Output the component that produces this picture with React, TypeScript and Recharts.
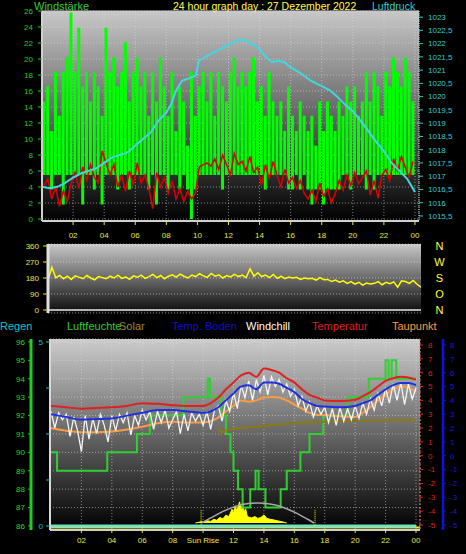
import React from "react";
import {
  ComposedChart,
  Bar,
  Line,
  Area,
  XAxis,
  YAxis,
  CartesianGrid,
  ReferenceLine,
} from "recharts";

const FONT = "'Liberation Sans', Arial, sans-serif";

// x axis (hours of the day)
const hourTicks = [2, 4, 6, 8, 10, 12, 14, 16, 18, 20, 22, 24];
const hourLabels = ["02", "04", "06", "08", "10", "12", "14", "16", "18", "20", "22", "00"];
const bottomLabels = ["02", "04", "06", "08", "Sun Rise", "12", "14", "16", "18", "20", "22", "00"];

// top chart: wind (km/h), 15 minute bins
const windTicks = [0, 2, 4, 6, 8, 10, 12, 14, 16, 18, 20, 22, 24, 26];
const windGust = [
  14.7, 16.6, 11.0, 18.4, 12.9, 18.4, 20.2, 25.8, 18.4, 23.9, 16.6, 18.4,
  14.7, 18.4, 16.6, 12.9, 23.9, 18.4, 20.2, 16.6, 18.4, 22.1, 14.7, 18.4,
  20.2, 16.6, 18.4, 12.9, 18.4, 14.7, 20.2, 16.6, 12.9, 18.4, 11.0, 16.6,
  14.7, 9.2, 18.4, 12.9, 16.6, 18.4, 14.7, 18.4, 12.9, 18.4, 16.6, 14.7,
  18.4, 20.2, 16.6, 18.4, 16.6, 18.4, 20.2, 14.7, 16.6, 12.9, 18.4, 14.7,
  12.9, 14.7, 11.0, 16.6, 12.9, 11.0, 14.7, 12.9, 11.0, 12.9, 9.2, 14.7,
  11.0, 14.7, 12.9, 11.0, 14.7, 12.9, 16.6, 14.7, 16.6, 12.9, 14.7, 18.4,
  14.7, 18.4, 16.6, 12.9, 18.4, 16.6, 20.2, 18.4, 16.6, 20.2, 18.4, 14.7,
];
const windLow = [
  5.5, 5.5, 3.7, 5.5, 5.5, 1.8, 5.5, 5.5, 5.5, 5.5, 1.8, 5.5,
  5.5, 3.7, 5.5, 1.8, 5.5, 5.5, 5.5, 3.7, 5.5, 5.5, 3.7, 5.5,
  5.5, 5.5, 5.5, 3.7, 5.5, 1.8, 5.5, 5.5, 3.7, 5.5, 5.5, 3.7,
  5.5, 3.7, 0, 3.7, 5.5, 5.5, 5.5, 5.5, 5.5, 5.5, 3.7, 5.5,
  5.5, 5.5, 5.5, 5.5, 5.5, 5.5, 5.5, 5.5, 5.5, 3.7, 5.5, 5.5,
  5.5, 5.5, 5.5, 3.7, 3.7, 5.5, 3.7, 5.5, 3.7, 1.8, 3.7, 3.7,
  1.8, 3.7, 3.7, 3.7, 3.7, 5.5, 5.5, 3.7, 5.5, 5.5, 5.5, 3.7,
  5.5, 3.7, 5.5, 5.5, 5.5, 5.5, 5.5, 5.5, 5.5, 5.5, 5.5, 5.5,
];
const windAvg = [
  4.2, 5.0, 2.5, 4.0, 1.6, 3.5, 2.2, 4.5, 5.8, 3.8, 6.5, 4.8,
  6.8, 5.2, 4.5, 8.5, 7.0, 5.5, 6.8, 4.0, 5.5, 3.5, 6.0, 4.2,
  7.0, 4.5, 5.5, 3.8, 1.3, 5.8, 4.0, 5.2, 3.2, 4.8, 2.5, 3.8,
  2.2, 3.5, 2.5, 3.2, 6.5, 6.8, 7.0, 6.6, 7.5, 6.2, 8.0, 6.8,
  5.5, 8.2, 6.8, 7.2, 6.0, 7.8, 5.8, 6.5, 4.2, 6.8, 5.0, 7.2,
  5.5, 4.0, 6.2, 4.5, 5.2, 3.8, 4.8, 3.2, 2.5, 3.6, 2.2, 4.5,
  2.8, 3.8, 2.0, 3.2, 4.8, 3.6, 5.5, 4.2, 5.8, 4.4, 5.2, 6.0,
  3.0, 4.8, 2.6, 5.5, 6.2, 4.8, 7.5, 6.0, 7.8, 6.5, 5.2, 7.2,
];

// top chart: air pressure (hPa)
const pressureTicks = [
  1015.5, 1016, 1016.5, 1017, 1017.5, 1018, 1018.5, 1019, 1019.5,
  1020, 1020.5, 1021, 1021.5, 1022, 1022.5, 1023,
];
const pressureHours = [
  0, 0.5, 1, 1.5, 2, 2.5, 3, 3.5, 4, 4.5, 5, 5.5, 6, 6.5, 7, 7.5, 8, 8.3, 8.6, 9,
  9.5, 9.9, 10.1, 10.5, 11, 11.5, 12, 12.5, 12.8, 13.2, 13.6, 14, 14.4, 14.8, 15.2,
  15.6, 16, 16.6, 17.3, 18, 18.5, 19, 19.5, 20, 20.5, 21, 21.5, 22, 22.5, 23, 23.5, 24,
];
const pressureValues = [
  1016.6, 1016.55, 1016.6, 1016.75, 1016.95, 1017.1, 1017.2, 1017.3, 1017.5, 1017.7,
  1017.8, 1017.9, 1018.15, 1018.4, 1018.65, 1019.1, 1019.4, 1019.7, 1020.2, 1020.6,
  1020.7, 1020.8, 1021.35, 1021.5, 1021.65, 1021.8, 1021.95, 1022.1, 1022.15, 1022.1,
  1021.95, 1021.8, 1021.5, 1021.3, 1021.35, 1021.3, 1021.1, 1020.9, 1020.6, 1020.4,
  1020.25, 1020.0, 1019.7, 1019.45, 1019.1, 1018.7, 1018.3, 1017.95, 1017.5, 1017.2,
  1016.9, 1016.4,
];

// middle chart: wind direction (deg), every 15 minutes
const dirTicks = [0, 90, 180, 270, 360];
const dirLetters = ["N", "O", "S", "W", "N"];
const windDir = [
  168, 240, 182, 195, 176, 190, 172, 192, 185, 176, 194, 180,
  170, 188, 182, 176, 190, 180, 196, 178, 186, 172, 192, 184,
  196, 178, 188, 200, 182, 194, 176, 190, 198, 185, 202, 190,
  180, 196, 188, 204, 192, 184, 206, 190, 198, 180, 194, 186,
  200, 188, 196, 182, 232, 190, 210, 188, 196, 182, 200, 178,
  190, 176, 186, 180, 184, 172, 180, 176, 178, 168, 182, 170,
  172, 160, 168, 156, 164, 150, 160, 146, 156, 140, 152, 146,
  150, 160, 142, 156, 148, 158, 128, 164, 160, 150, 166, 145, 128,
];

// bottom chart: humidity (%), stepped
const humTicks = [86, 87, 88, 89, 90, 91, 92, 93, 94, 95, 96];
const humHours = [
  0, 0.4, 3.7, 5.65, 6.5, 8.7, 10.3, 10.45, 11.2, 11.5, 11.8, 12.0, 12.3, 12.6, 13.1,
  13.45, 13.65, 14.1, 15.1, 15.5, 16.4, 17.0, 17.9, 19.5, 20.9, 22.0, 22.2, 22.4, 22.7, 24,
];
const humValues = [
  90, 89, 90, 91, 92, 93, 94, 93, 92, 91, 90, 89, 88, 87, 88,
  89, 88, 87, 88, 89, 90, 91, 92, 93, 94, 95, 94, 95, 94, 94,
];

// bottom chart: temperatures (°C)
const tempTicks = [-5, -4, -3, -2, -1, 0, 1, 2, 3, 4, 5, 6, 7, 8];
const tempHours = [
  0, 1, 2, 3, 4, 5, 6, 7, 8, 9, 10, 10.5, 11, 11.5, 12, 12.5, 13, 13.5, 14, 14.5,
  15, 15.5, 16, 16.5, 17, 17.5, 18, 19, 20, 20.5, 21, 21.5, 22, 22.5, 23, 23.5, 24,
];
const tempValues = [
  3.6, 3.5, 3.4, 3.45, 3.5, 3.6, 3.8, 3.75, 3.65, 3.6, 3.6, 3.8, 4.2, 4.8, 5.3, 5.8,
  6.0, 5.7, 6.3, 6.2, 6.0, 5.6, 5.3, 4.8, 4.4, 4.2, 4.0, 3.95, 4.05, 4.3, 4.6, 5.0,
  5.4, 5.6, 5.7, 5.65, 5.5,
];
const groundValues = [
  3.0, 2.8, 2.6, 2.65, 2.7, 2.9, 3.1, 3.3, 3.3, 3.2, 3.1, 3.2, 3.5, 4.0, 4.5, 5.0,
  5.1, 4.8, 5.3, 5.3, 5.2, 4.9, 4.6, 4.1, 3.8, 3.6, 3.55, 3.5, 3.6, 3.8, 4.0, 4.4,
  4.8, 5.1, 5.25, 5.25, 5.1,
];
const dewValues = [
  2.0, 1.8, 1.7, 1.7, 1.75, 1.9, 2.1, 2.35, 2.45, 2.4, 2.4, 2.5, 2.75, 3.2, 3.6, 4.0,
  3.9, 4.0, 4.2, 4.25, 4.2, 4.0, 3.7, 3.4, 3.1, 2.95, 2.95, 2.85, 2.8, 3.1, 3.5, 4.0,
  4.4, 4.8, 5.0, 4.9, 4.6,
];
// windchill every 15 minutes
const chillValues = [
  3.2, 2.0, 3.1, 2.6, 3.0, 1.4, 2.8, 1.8, 0.3, 2.9, 1.2, 2.7,
  1.6, 3.0, 2.2, 1.0, 2.9, 1.8, 3.0, 2.4, 3.1, 1.5, 2.9, 2.2,
  3.3, 2.6, 3.2, 1.9, 3.2, 2.4, 3.3, 2.0, 2.6, 3.2, 1.6, 3.0,
  1.8, 3.1, 2.5, 3.0, 2.2, 3.2, 1.9, 3.3, 3.6, 2.5, 4.0, 3.2,
  4.6, 3.4, 5.1, 4.2, 5.4, 4.0, 5.5, 4.6, 5.8, 4.4, 5.7, 5.0,
  5.5, 4.6, 5.2, 4.3, 4.8, 3.6, 4.3, 3.2, 3.9, 2.8, 3.6, 3.0,
  3.5, 2.4, 3.4, 2.2, 3.5, 2.5, 3.4, 2.6, 3.6, 2.7, 3.8, 3.0,
  4.1, 3.3, 4.5, 3.6, 4.9, 3.8, 5.2, 4.0, 5.3, 3.7, 5.2, 4.1, 4.9,
];
// olive "Solar" line (on the temperature scale)
const oliveHours = [11.0, 11.2, 11.4, 12, 13, 14, 15, 16, 17, 18, 20, 22, 24];
const oliveValues = [2.1, 1.65, 1.8, 1.95, 2.05, 2.15, 2.25, 2.35, 2.42, 2.47, 2.52, 2.56, 2.58];

// solar radiation (W/m²) and theoretical maximum
const sunHours = [
  9.5, 9.7, 9.9, 10.1, 10.3, 10.5, 10.7, 10.9, 11.1, 11.3, 11.5, 11.7, 11.9, 12.0,
  12.1, 12.2, 12.3, 12.4, 12.5, 12.6, 12.7, 12.8, 12.9, 13.0, 13.2, 13.4, 13.6, 13.8,
  14.0, 14.2, 14.4, 14.6, 14.8, 15.0, 15.2, 15.5,
];
const sunValues = [
  0, 3, 6, 4, 10, 7, 16, 12, 24, 18, 34, 28, 60, 42, 75, 55, 70, 92, 58, 85, 48, 62,
  30, 26, 22, 28, 20, 24, 35, 20, 16, 14, 11, 8, 5, 0,
];
const sunMaxHours = [9.9, 10.5, 11, 11.5, 12, 12.5, 13, 13.6, 14, 14.5, 15, 15.5, 16, 16.5, 17, 17.3];
const sunMaxValues = [0, 22, 40, 56, 69, 79, 85, 87, 86, 82, 74, 62, 47, 30, 12, 0];
const sunRise = 9.87;
const sunSet = 17.36;

// rain (mm)
const rainTicks = [0, 1.25, 2.5, 3.75, 5];
const rainHours = [0, 24];
const rainValues = [0, 0];

const legend = [
  { name: "Regen", x: 0, color: "#00c8c8" },
  { name: "Luftfeuchte", x: 67, color: "#33cc33" },
  { name: "Solar", x: 119, color: "#9a8a20" },
  { name: "Temp. Boden", x: 172, color: "#1010c8" },
  { name: "Windchill", x: 246, color: "#ffffff" },
  { name: "Temperatur", x: 312, color: "#dd2020" },
  { name: "Taupunkt", x: 392, color: "#ff9944" },
];

const series = (hours: number[], values: number[], key: string) =>
  hours.map((t, i) => ({ t, [key]: values[i] }));

const windData = windGust.map((g, i) => ({
  t: i * 0.25 + 0.125,
  bin: i,
  range: [windLow[i], g],
  avg: windAvg[i],
}));
const pressureData = series(pressureHours, pressureValues, "p");
const dirData = windDir.map((d, i) => ({ t: i * 0.25, d }));
const humData = series(humHours, humValues, "h");
const tempData = series(tempHours, tempValues, "v");
const groundData = series(tempHours, groundValues, "v");
const dewData = series(tempHours, dewValues, "v");
const chillData = chillValues.map((v, i) => ({ t: i * 0.25, v }));
const oliveData = series(oliveHours, oliveValues, "v");
const sunData = series(sunHours, sunValues, "s");
const sunMaxData = series(sunMaxHours, sunMaxValues, "s");
const rainData = series(rainHours, rainValues, "r");

const label = (labels: string[]) => (v: number) => labels[hourTicks.indexOf(v)] ?? "";
const comma = (v: number) => String(v).replace(".", ",");

const DirTick = (props: any) => {
  const { y, payload } = props;
  return (
    <text x={439.5} y={y} dy="0.36em" textAnchor="middle" fill="#ffff40" fontSize={11} fontFamily={FONT}>
      {dirLetters[dirTicks.indexOf(payload.value)]}
    </text>
  );
};

export default function App() {
  const yellow = "#e8e840";
  return (
    <div
      style={{
        position: "absolute",
        left: 0,
        top: 0,
        width: 466,
        height: 554,
        background: "#000",
        overflow: "hidden",
        fontFamily: FONT,
      }}
    >
      {/* wind speed + pressure */}
      <div style={{ position: "absolute", left: 0, top: 0 }}>
        <ComposedChart
          width={466}
          height={241}
          data={windData}
          barCategoryGap={0.3}
          margin={{ top: 11, right: 0, bottom: 0, left: 0 }}
        >
          <defs>
            <linearGradient id="bgTop" x1="0" y1="0" x2="0" y2="1">
              <stop offset="0" stopColor="#c8c8c8" />
              <stop offset="1" stopColor="#000000" />
            </linearGradient>
          </defs>
          <CartesianGrid yAxisId="w" fill="url(#bgTop)" fillOpacity={1} stroke="#e0e0e0" strokeOpacity={0.55} strokeDasharray="1 2" />
          <XAxis
            dataKey="t"
            type="number"
            domain={[0, 24.26]}
            allowDataOverflow
            ticks={hourTicks}
            interval={0}
            tickFormatter={label(hourLabels)}
            height={20}
            tickSize={4}
            tickMargin={7}
            axisLine={{ stroke: "#d0d0d0", strokeWidth: 2 }}
            tickLine={{ stroke: yellow }}
            tick={{ fill: yellow, fontSize: 8, fontFamily: FONT }}
          />
          <XAxis xAxisId="bins" dataKey="bin" type="category" hide padding={{ left: 0, right: 4 }} />
          <YAxis
            yAxisId="w"
            domain={[-0.25, 26]}
            allowDataOverflow
            ticks={windTicks}
            interval={0}
            width={42}
            tickSize={4}
            tickMargin={5}
            axisLine={{ stroke: "#d0d0d0", strokeWidth: 2 }}
            tickLine={{ stroke: "#22cc22" }}
            tick={{ fill: "#22cc22", fontSize: 8, fontFamily: FONT }}
          />
          <YAxis
            yAxisId="p"
            orientation="right"
            domain={[1015.31, 1023.23]}
            allowDataOverflow
            ticks={pressureTicks}
            interval={0}
            tickFormatter={comma}
            width={47}
            tickSize={4}
            tickMargin={5}
            axisLine={{ stroke: "#a0e0e0", strokeDasharray: "1 1" }}
            tickLine={{ stroke: "#33cccc" }}
            tick={{ fill: "#33cccc", fontSize: 8, fontFamily: FONT }}
          />
          <ReferenceLine yAxisId="w" y={26} stroke="#c8c8c8" />
          <Bar xAxisId="bins" yAxisId="w" dataKey="range" fill="#00ff00" isAnimationActive={false} />
          <Line yAxisId="w" dataKey="avg" stroke="#dd0000" strokeWidth={1.5} dot={false} isAnimationActive={false} />
          <Line yAxisId="p" data={pressureData} dataKey="p" stroke="#40d8e0" strokeWidth={2} dot={false} isAnimationActive={false} />
        </ComposedChart>
      </div>

      {/* wind direction */}
      <div style={{ position: "absolute", left: 0, top: 236 }}>
        <ComposedChart width={466} height={86} data={dirData} margin={{ top: 8, right: 0, bottom: 9, left: 0 }}>
          <defs>
            <linearGradient id="bgMid" x1="0" y1="0" x2="0" y2="1">
              <stop offset="0" stopColor="#c8c8c8" />
              <stop offset="1" stopColor="#0a0a0a" />
            </linearGradient>
          </defs>
          <CartesianGrid yAxisId="d" vertical={false} fill="url(#bgMid)" fillOpacity={1} stroke="#e8e8e8" strokeOpacity={0.6} strokeDasharray="1 2" />
          <XAxis dataKey="t" type="number" domain={[0, 24]} allowDataOverflow hide />
          <YAxis
            yAxisId="d"
            domain={[-16.9, 371.25]}
            allowDataOverflow
            ticks={dirTicks}
            interval={0}
            width={48}
            tickSize={5}
            tickMargin={4}
            axisLine={{ stroke: "#e0e0e0", strokeWidth: 3 }}
            tickLine={{ stroke: yellow }}
            tick={{ fill: yellow, fontSize: 8, fontFamily: FONT }}
          />
          <YAxis
            yAxisId="dr"
            orientation="right"
            domain={[-16.9, 371.25]}
            allowDataOverflow
            ticks={dirTicks}
            interval={0}
            width={45}
            axisLine={false}
            tickLine={false}
            tick={<DirTick />}
          />
          <ReferenceLine yAxisId="d" y={0} stroke="#e0e0e0" strokeWidth={1.5} />
          <Line yAxisId="d" dataKey="d" stroke="#ffff00" strokeWidth={1.5} dot={false} isAnimationActive={false} />
        </ComposedChart>
      </div>

      {/* humidity, temperatures, solar, rain */}
      <div style={{ position: "absolute", left: 0, top: 330 }}>
        <ComposedChart width={466} height={220} margin={{ top: 9, right: 0, bottom: 0, left: 0 }}>
          <defs>
            <linearGradient id="bgBot" x1="0" y1="0" x2="0" y2="1">
              <stop offset="0" stopColor="#cccccc" />
              <stop offset="0.5" stopColor="#666666" />
              <stop offset="1" stopColor="#000000" />
            </linearGradient>
          </defs>
          <CartesianGrid yAxisId="rh" fill="url(#bgBot)" fillOpacity={1} stroke="#e0e0e0" strokeOpacity={0.55} strokeDasharray="1 2" />
          <XAxis
            dataKey="t"
            type="number"
            domain={[-0.066, 24.263]}
            allowDataOverflow
            ticks={hourTicks}
            interval={0}
            tickFormatter={label(bottomLabels)}
            height={20}
            tickSize={3}
            tickMargin={4}
            axisLine={{ stroke: "#d0d0d0", strokeWidth: 2 }}
            tickLine={{ stroke: yellow }}
            tick={{ fill: yellow, fontSize: 8, fontFamily: FONT }}
          />
          {/* axes stack outward in id order: rain inside, humidity outside */}
          <YAxis
            yAxisId="ra"
            domain={[-0.109, 5.082]}
            allowDataOverflow
            ticks={rainTicks}
            interval={0}
            tickFormatter={(v: number) => (v === 0 || v === 5 ? String(v) : "")}
            width={19}
            tickSize={4}
            tickMargin={3}
            axisLine={{ stroke: "#d8d8d8", strokeWidth: 2 }}
            tickLine={{ stroke: "#00cccc" }}
            tick={{ fill: "#00cccc", fontSize: 8, fontFamily: FONT }}
          />
          <YAxis
            yAxisId="rh"
            domain={[85.78, 96.16]}
            allowDataOverflow
            ticks={humTicks}
            interval={0}
            width={31}
            tickSize={3}
            tickMargin={3}
            axisLine={{ stroke: "#22cc22", strokeWidth: 3 }}
            tickLine={{ stroke: "#22cc22" }}
            tick={{ fill: "#22dd22", fontSize: 8, fontFamily: FONT }}
          />
          <YAxis yAxisId="s" hide domain={[-30.4, 800]} allowDataOverflow />
          {/* temperature inside, ground temperature outside */}
          <YAxis
            yAxisId="ta"
            orientation="right"
            domain={[-5.361, 8.433]}
            allowDataOverflow
            ticks={tempTicks}
            interval={0}
            width={23}
            tickSize={3}
            tickMargin={5}
            axisLine={{ stroke: "#ff6060", strokeDasharray: "2 2" }}
            tickLine={{ stroke: "#dd2020" }}
            tick={{ fill: "#dd2020", fontSize: 8, fontFamily: FONT }}
          />
          <YAxis
            yAxisId="tb"
            orientation="right"
            domain={[-5.361, 8.433]}
            allowDataOverflow
            ticks={tempTicks}
            interval={0}
            width={23}
            tickSize={3}
            tickMargin={4}
            axisLine={{ stroke: "#1010e0", strokeWidth: 2.5 }}
            tickLine={{ stroke: "#1010e0" }}
            tick={{ fill: "#1818e0", fontSize: 8, fontFamily: FONT }}
          />
          <Line yAxisId="rh" data={humData} dataKey="h" type="stepAfter" stroke="#30d030" strokeWidth={2} dot={false} isAnimationActive={false} />
          <Area yAxisId="s" data={sunData} dataKey="s" stroke="#ffff00" fill="#ffff00" fillOpacity={1} baseValue={0} dot={false} isAnimationActive={false} />
          <Line yAxisId="s" data={sunMaxData} dataKey="s" type="monotone" stroke="#a8a8a8" strokeWidth={1.5} dot={false} isAnimationActive={false} />
          <ReferenceLine yAxisId="s" segment={[{ x: sunRise, y: -10 }, { x: sunRise, y: 60 }]} stroke="#ffff00" strokeDasharray="1 1" />
          <ReferenceLine yAxisId="s" segment={[{ x: sunSet, y: -10 }, { x: sunSet, y: 60 }]} stroke="#ffff00" strokeDasharray="1 1" />
          <Line yAxisId="ta" data={oliveData} dataKey="v" stroke="#8a7a10" strokeWidth={2} dot={false} isAnimationActive={false} />
          <Line yAxisId="ta" data={dewData} dataKey="v" type="monotone" stroke="#ff9a40" strokeWidth={2} dot={false} isAnimationActive={false} />
          <Line yAxisId="ta" data={chillData} dataKey="v" stroke="#f4f4f4" strokeWidth={1.3} dot={false} isAnimationActive={false} />
          <Line yAxisId="tb" data={groundData} dataKey="v" type="monotone" stroke="#2030e0" strokeWidth={2} dot={false} isAnimationActive={false} />
          <Line yAxisId="ta" data={tempData} dataKey="v" type="monotone" stroke="#e02020" strokeWidth={2} dot={false} isAnimationActive={false} />
          <ReferenceLine yAxisId="s" y={-20} stroke="#e8e820" strokeWidth={2} />
          <Line yAxisId="ra" data={rainData} dataKey="r" stroke="#70e0d0" strokeWidth={3} dot={false} isAnimationActive={false} />
        </ComposedChart>
      </div>

      {/* titles and legend */}
      <svg width={466} height={554} style={{ position: "absolute", left: 0, top: 0, pointerEvents: "none" }}>
        <text x={34} y={9.5} fill="#33cc33" fontSize={11} fontFamily={FONT}>Windstärke</text>
        <text x={173} y={9.5} fill="#ffff55" fontSize={10.5} fontFamily={FONT}>24 hour graph day : 27 Dezember 2022</text>
        <text x={372} y={9.5} fill="#33cccc" fontSize={10.5} fontFamily={FONT}>Luftdruck</text>
        {legend.map((l) => (
          <text key={l.name} x={l.x} y={329.5} fill={l.color} fontSize={11} fontFamily={FONT}>
            {l.name}
          </text>
        ))}
      </svg>
    </div>
  );
}
